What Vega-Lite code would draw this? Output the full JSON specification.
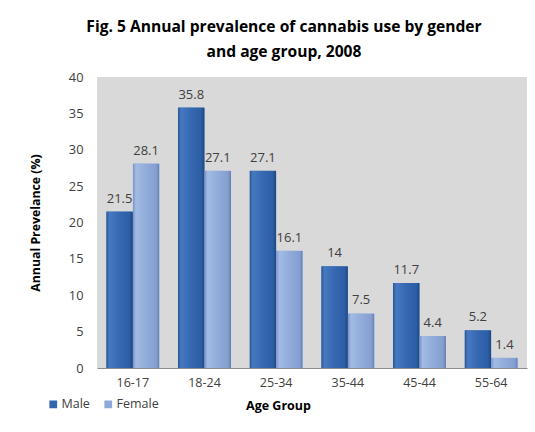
{
  "$schema": "https://vega.github.io/schema/vega-lite/v6.json",
  "width": 430,
  "height": 291,
  "autosize": {"type": "none"},
  "padding": {"left": 97, "top": 77, "right": 8, "bottom": 64},
  "background": "#ffffff",
  "title": {
    "text": ["Fig. 5 Annual prevalence of cannabis use by gender", "and age group, 2008"],
    "font": "Open Sans",
    "fontSize": 15.6,
    "fontWeight": "bold",
    "color": "#000000",
    "anchor": "middle",
    "dx": -28,
    "offset": 10,
    "lineHeight": 25
  },
  "config": {
    "view": {"fill": "#d9d9d9", "stroke": null},
    "font": "Open Sans"
  },
  "data": {
    "values": [
      {"age": "16-17", "gender": "Male", "prevalence": 21.5},
      {"age": "16-17", "gender": "Female", "prevalence": 28.1},
      {"age": "18-24", "gender": "Male", "prevalence": 35.8},
      {"age": "18-24", "gender": "Female", "prevalence": 27.1},
      {"age": "25-34", "gender": "Male", "prevalence": 27.1},
      {"age": "25-34", "gender": "Female", "prevalence": 16.1},
      {"age": "35-44", "gender": "Male", "prevalence": 14},
      {"age": "35-44", "gender": "Female", "prevalence": 7.5},
      {"age": "45-44", "gender": "Male", "prevalence": 11.7},
      {"age": "45-44", "gender": "Female", "prevalence": 4.4},
      {"age": "55-64", "gender": "Male", "prevalence": 5.2},
      {"age": "55-64", "gender": "Female", "prevalence": 1.4}
    ]
  },
  "encoding": {
    "x": {
      "field": "age",
      "type": "nominal",
      "sort": null,
      "scale": {"paddingInner": 0.26, "paddingOuter": 0.13},
      "axis": {
        "title": "Age Group",
        "titleFont": "Open Sans",
        "titleFontSize": 12.5,
        "titleFontWeight": "bold",
        "titleColor": "#000000",
        "titleX": 181,
        "titleY": 31,
        "titleAlign": "center",
        "labelAngle": 0,
        "labelFontSize": 12.5,
        "labelColor": "#404040",
        "labelPadding": 8,
        "ticks": false,
        "domainColor": "#8c8c8c",
        "domainWidth": 1
      }
    },
    "y": {
      "field": "prevalence",
      "type": "quantitative",
      "scale": {"domain": [0, 40]},
      "axis": {
        "title": "Annual Prevelance (%)",
        "titleFont": "Open Sans",
        "titleFontSize": 12.3,
        "titleFontWeight": "bold",
        "titleColor": "#000000",
        "titlePadding": 26,
        "values": [0, 5, 10, 15, 20, 25, 30, 35, 40],
        "labelFontSize": 12.8,
        "labelColor": "#404040",
        "labelPadding": 14,
        "ticks": false,
        "domain": false,
        "grid": false
      }
    },
    "xOffset": {"field": "gender", "type": "nominal", "sort": ["Male", "Female"], "scale": {"paddingInner": 0}}
  },
  "layer": [
    {
      "mark": {"type": "bar"},
      "encoding": {
        "color": {
          "field": "gender",
          "type": "nominal",
          "sort": ["Male", "Female"],
          "scale": {"domain": ["Male", "Female"], "range": ["#3266ad", "#8eaadb"]},
          "legend": {
            "title": null,
            "orient": "none",
            "direction": "horizontal",
            "legendX": -50,
            "legendY": 321,
            "symbolType": "square",
            "symbolSize": 60,
            "symbolStrokeWidth": 0,
            "labelFontSize": 12.5,
            "labelColor": "#404040",
            "labelOffset": 2,
            "columnPadding": 12
          }
        }
      }
    },
    {
      "transform": [{"filter": "datum.gender === 'Male'"}],
      "mark": {
        "type": "bar",
        "cornerRadiusTopLeft": 1,
        "cornerRadiusTopRight": 1,
        "color": {
          "gradient": "linear",
          "x1": 0, "y1": 0, "x2": 1, "y2": 0,
          "stops": [
            {"offset": 0, "color": "#2a5596"},
            {"offset": 0.12, "color": "#4679c0"},
            {"offset": 0.5, "color": "#3568b1"},
            {"offset": 0.88, "color": "#2c5ea4"},
            {"offset": 1, "color": "#1e447e"}
          ]
        }
      },
      "encoding": {}
    },
    {
      "transform": [{"filter": "datum.gender === 'Female'"}],
      "mark": {
        "type": "bar",
        "cornerRadiusTopLeft": 1,
        "cornerRadiusTopRight": 1,
        "color": {
          "gradient": "linear",
          "x1": 0, "y1": 0, "x2": 1, "y2": 0,
          "stops": [
            {"offset": 0, "color": "#7692c6"},
            {"offset": 0.12, "color": "#a3bbe4"},
            {"offset": 0.5, "color": "#91acdb"},
            {"offset": 0.88, "color": "#859fd0"},
            {"offset": 1, "color": "#6580b5"}
          ]
        }
      },
      "encoding": {}
    },
    {
      "mark": {"type": "text", "baseline": "bottom", "dy": -6, "fontSize": 13, "color": "#404040"},
      "encoding": {"text": {"field": "prevalence", "type": "quantitative"}}
    }
  ]
}
